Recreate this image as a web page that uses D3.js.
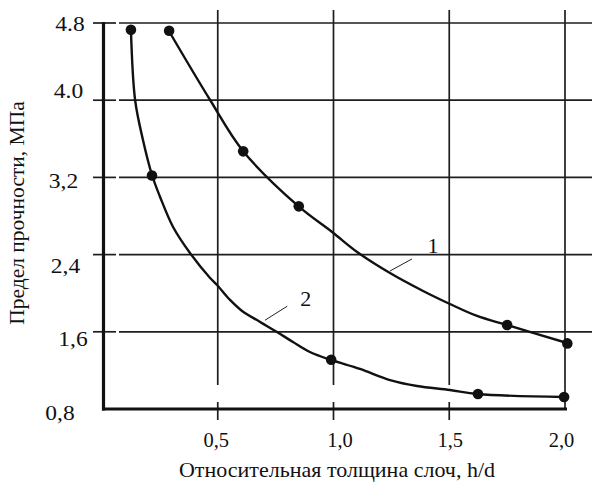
<!DOCTYPE html>
<html><head><meta charset="utf-8">
<script src="https://cdn.jsdelivr.net/npm/d3@7"></script>
<style>html,body{margin:0;padding:0;background:#fff}svg{display:block}
text{font-family:"Liberation Serif","Times New Roman",serif;fill:#111}</style>
</head><body>
<script>
// ---- data ----
const yTicks = [4.8, 4.0, 3.2, 2.4, 1.6, 0.8];
const yTickLabels = ["4.8", "4.0", "3,2", "2,4", "1,6", "0,8"];
const xTicks = [0.5, 1.0, 1.5, 2.0];
const xTickLabels = ["0,5", "1,0", "1,5", "2,0"];
const xTitle = "Относительная толщина слоч, h/d";
const yTitle = "Предел прочности, МПа";

const curve1X = [0.289,0.467,0.609,0.847,0.994,1.102,1.244,1.387,1.503,1.620,1.75,2.009];
const curve1Y = [4.717,4.002,3.474,2.904,2.634,2.427,2.209,2.023,1.888,1.764,1.67,1.484];
const points1X = [0.29,0.61,0.85,1.75,2.01];
const points1Y = [4.72,3.47,2.90,1.67,1.48];

// curve 2
const curve2X = [0.125,0.143,0.177,0.216,0.251,0.307,0.380,0.467,0.497,0.553,0.605,0.683,0.756,0.825,0.898,0.989,1.114,1.244,1.361,1.503,1.624,1.996];
const curve2Y = [4.727,4.002,3.588,3.225,2.997,2.686,2.417,2.158,2.085,1.930,1.816,1.702,1.598,1.494,1.391,1.308,1.215,1.100,1.038,0.997,0.955,0.924];
const points2X = [0.125,0.216,0.99,1.624,1.996];
const points2Y = [4.73,3.22,1.31,0.955,0.924];

// curve labels with leader lines
const curveLabels = ["1", "2"];
const labelX = [1.43, 0.88];
const labelY = [2.42, 1.87];
const leaderX1 = [1.244, 0.704], leaderY1 = [2.23, 1.72];
const leaderX2 = [1.339, 0.80], leaderY2 = [2.355, 1.865];

// ---- drawing ----
const W = 592, H = 482;
const svg = d3.select("body").append("svg").attr("width", W).attr("height", H)
  .style("background", "#fff");

const x = d3.scaleLinear().domain([0, 2]).range([102, 565]);
const y = d3.scaleLinear().domain([0.8, 4.8]).range([409, 23]);

const gridColor = "#1e1e1e";
const gw = 1.7;
// horizontal gridlines + left ticks
yTicks.slice(0, -1).forEach((t) => {
  svg.append("line").attr("x1", x(0) - 9).attr("x2", x(0) + 14)
    .attr("y1", y(t)).attr("y2", y(t)).attr("stroke", gridColor).attr("stroke-width", gw);
  svg.append("line").attr("x1", x(0) + 17).attr("x2", W)
    .attr("y1", y(t)).attr("y2", y(t)).attr("stroke", gridColor).attr("stroke-width", gw);
});
// vertical gridlines + bottom ticks
xTicks.forEach((t, i) => {
  const last = i === xTicks.length - 1;
  svg.append("line").attr("x1", x(t)).attr("x2", x(t))
    .attr("y1", 10).attr("y2", last ? y(0.8) : y(0.8) - 24)
    .attr("stroke", gridColor).attr("stroke-width", gw);
  if (!last) {
    svg.append("line").attr("x1", x(t)).attr("x2", x(t))
      .attr("y1", y(0.8) - 7).attr("y2", y(0.8) + 11)
      .attr("stroke", gridColor).attr("stroke-width", gw);
  }
});
// axes (thick)
svg.append("line").attr("x1", x(0) + 1.5).attr("x2", x(0) + 1.5)
  .attr("y1", y(4.8) - 1).attr("y2", y(0.8) + 1.5)
  .attr("stroke", "#111").attr("stroke-width", 3.2);
svg.append("line").attr("x1", x(0)).attr("x2", x(2) + 2)
  .attr("y1", y(0.8)).attr("y2", y(0.8))
  .attr("stroke", "#111").attr("stroke-width", 3.2);

// tick labels (hand-lettered offsets of the original scan)
const yLabDx = [-32, -33.5, -38.5, -36.5, -29, -42];
const yLabDy = [0.5, -9, 4, 11, 7, 3.5];
yTicks.forEach((t, i) => {
  svg.append("text").attr("font-size", 21).attr("text-anchor", "middle")
    .attr("transform", `translate(${x(0) + yLabDx[i]},${y(t) + yLabDy[i] + 7}) scale(1.12,1)`)
    .text(yTickLabels[i]);
});
const xLabDx = [-1.5, 6.5, 1, -3.5];
xTicks.forEach((t, i) => {
  svg.append("text").attr("font-size", 20.5).attr("text-anchor", "middle")
    .attr("x", x(t) + xLabDx[i]).attr("y", y(0.8) + 38).text(xTickLabels[i]);
});

// titles
svg.append("text").attr("font-size", 22).attr("text-anchor", "middle")
  .attr("x", 337).attr("y", 477).text(xTitle);
svg.append("text").attr("font-size", 21.5).attr("text-anchor", "middle")
  .attr("transform", "translate(24,213) rotate(-90)").text(yTitle);

// curves
const line = d3.line().x(d => x(d[0])).y(d => y(d[1])).curve(d3.curveCatmullRom.alpha(0.5));
const c1 = curve1X.map((v, i) => [v, curve1Y[i]]);
const c2 = curve2X.map((v, i) => [v, curve2Y[i]]);
[c1, c2].forEach(c => {
  svg.append("path").attr("d", line(c)).attr("fill", "none")
    .attr("stroke", "#111").attr("stroke-width", 2.4).attr("stroke-linejoin", "round");
});
// markers
const p1 = points1X.map((v, i) => [v, points1Y[i]]);
const p2 = points2X.map((v, i) => [v, points2Y[i]]);
svg.append("g").selectAll("circle").data(p1.concat(p2)).join("circle")
  .attr("cx", d => x(d[0])).attr("cy", d => y(d[1])).attr("r", 5.3).attr("fill", "#111");

// curve labels + leaders
curveLabels.forEach((lab, i) => {
  svg.append("line").attr("x1", x(leaderX1[i])).attr("y1", y(leaderY1[i]))
    .attr("x2", x(leaderX2[i])).attr("y2", y(leaderY2[i]))
    .attr("stroke", "#222").attr("stroke-width", 1);
  svg.append("text").attr("font-size", 22).attr("text-anchor", "middle")
    .attr("x", x(labelX[i])).attr("y", y(labelY[i])).text(lab);
});
</script>
</body></html>
